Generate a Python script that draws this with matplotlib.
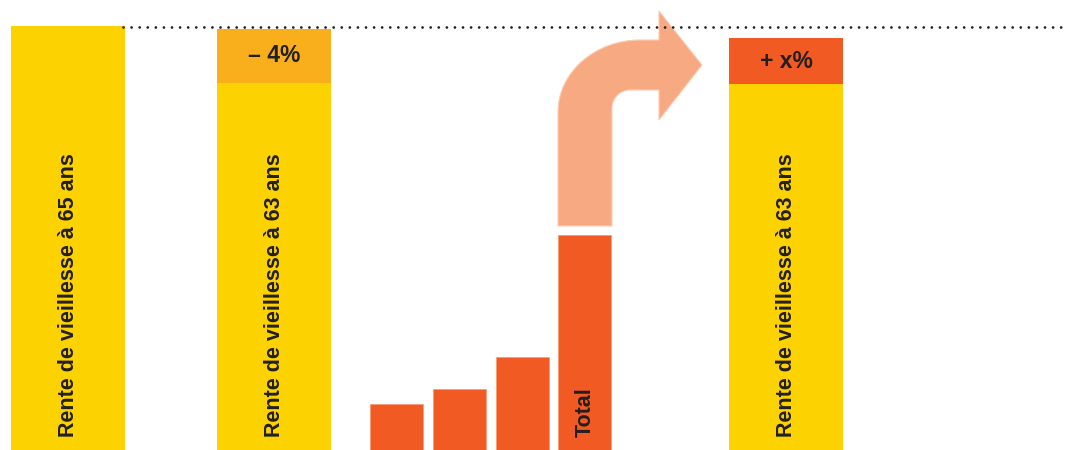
import matplotlib
matplotlib.use('Agg')

import matplotlib.pyplot as plt
from matplotlib.path import Path
from matplotlib.patches import PathPatch

plt.rcParams['font.family'] = ['Liberation Sans', 'DejaVu Sans']

# data (heights in picture units, baseline = 0)
main_labels = ["Rente de vieillesse à 65 ans", "Rente de vieillesse à 63 ans", "Rente de vieillesse à 63 ans"]
main_base = [424, 367, 366]          # yellow part
main_top = [0, 54, 46]               # change segment on top
main_top_labels = ["", "– 4%", "+ x%"]
parts = [46, 61, 93, 215]            # small orange bars, last one is the total
part_labels = ["", "", "", "Total"]
ref_level = 423                      # dotted reference line

YELLOW = '#FCD200'
ORANGE = '#F9AE1B'
RED = '#F15A22'
ARROW = '#F7AA82'
TEXT = '#231F20'

fig = plt.figure(figsize=(10.67, 4.5), dpi=100)
ax = fig.add_axes([0, 0, 1, 1])
ax.set_xlim(0, 1067)
ax.set_ylim(0, 450)
ax.axis('off')

# main bars
main_x = [11, 217, 729]
main_w = 114
top_colors = [YELLOW, ORANGE, RED]
ax.bar(main_x, main_base, width=main_w, align='edge', color=YELLOW, edgecolor='none')
ax.bar(main_x, main_top, bottom=main_base, width=main_w, align='edge', color=top_colors, edgecolor='none')

for x, b, t, lab, tl in zip(main_x, main_base, main_top, main_labels, main_top_labels):
    ax.text(x + main_w / 2 + 1, 13, lab, rotation=90, ha='center', va='bottom',
            fontsize=15.5, fontweight='bold', color=TEXT)
    if tl:
        ax.text(x + main_w / 2, b + t / 2, tl, ha='center', va='center',
                fontsize=16.5, fontweight='bold', color=TEXT)

# dotted reference line
ax.plot([123, 1067], [ref_level, ref_level], color=TEXT, linewidth=2.0,
        dashes=(0.01, 2.9), dash_capstyle='round')

# small bars
part_x = [370, 433, 496, 558]
part_w = 53
ax.bar(part_x, parts, width=part_w, align='edge', color=RED, edgecolor='#F79C74', linewidth=0.6)
for x, v, lab in zip(part_x, parts, part_labels):
    if lab:
        ax.text(x + part_w / 2 + 0.5, 13, lab, rotation=90, ha='center', va='bottom',
                fontsize=15.5, fontweight='bold', color=TEXT)

# bent arrow from total bar towards the last bar
x0 = part_x[-1]
x1 = x0 + 54
y0 = parts[-1] + 9
top_y = 410
inner_y = 360
head_x = 659
tip_x = 702
k = 0.55
ro_x, ro_y = 82, 72
ri = 18
verts = [
    (x0, y0),
    (x0, top_y - ro_y),
    (x0, top_y - ro_y + k * ro_y), (x0 + ro_x - k * ro_x, top_y), (x0 + ro_x, top_y),
    (head_x, top_y),
    (head_x, 439),
    (tip_x, 385),
    (head_x, 330),
    (head_x, inner_y),
    (x1 + ri, inner_y),
    (x1 + ri - k * ri, inner_y), (x1, inner_y - ri + k * ri), (x1, inner_y - ri),
    (x1, y0),
    (x0, y0),
]
codes = [Path.MOVETO, Path.LINETO,
         Path.CURVE4, Path.CURVE4, Path.CURVE4,
         Path.LINETO, Path.LINETO, Path.LINETO, Path.LINETO, Path.LINETO, Path.LINETO,
         Path.CURVE4, Path.CURVE4, Path.CURVE4,
         Path.LINETO, Path.CLOSEPOLY]
ax.add_patch(PathPatch(Path(verts, codes), facecolor=ARROW, edgecolor='#FBCDB5', linewidth=0.8))

plt.savefig('out.png', dpi=100, facecolor='white')
plt.close()
